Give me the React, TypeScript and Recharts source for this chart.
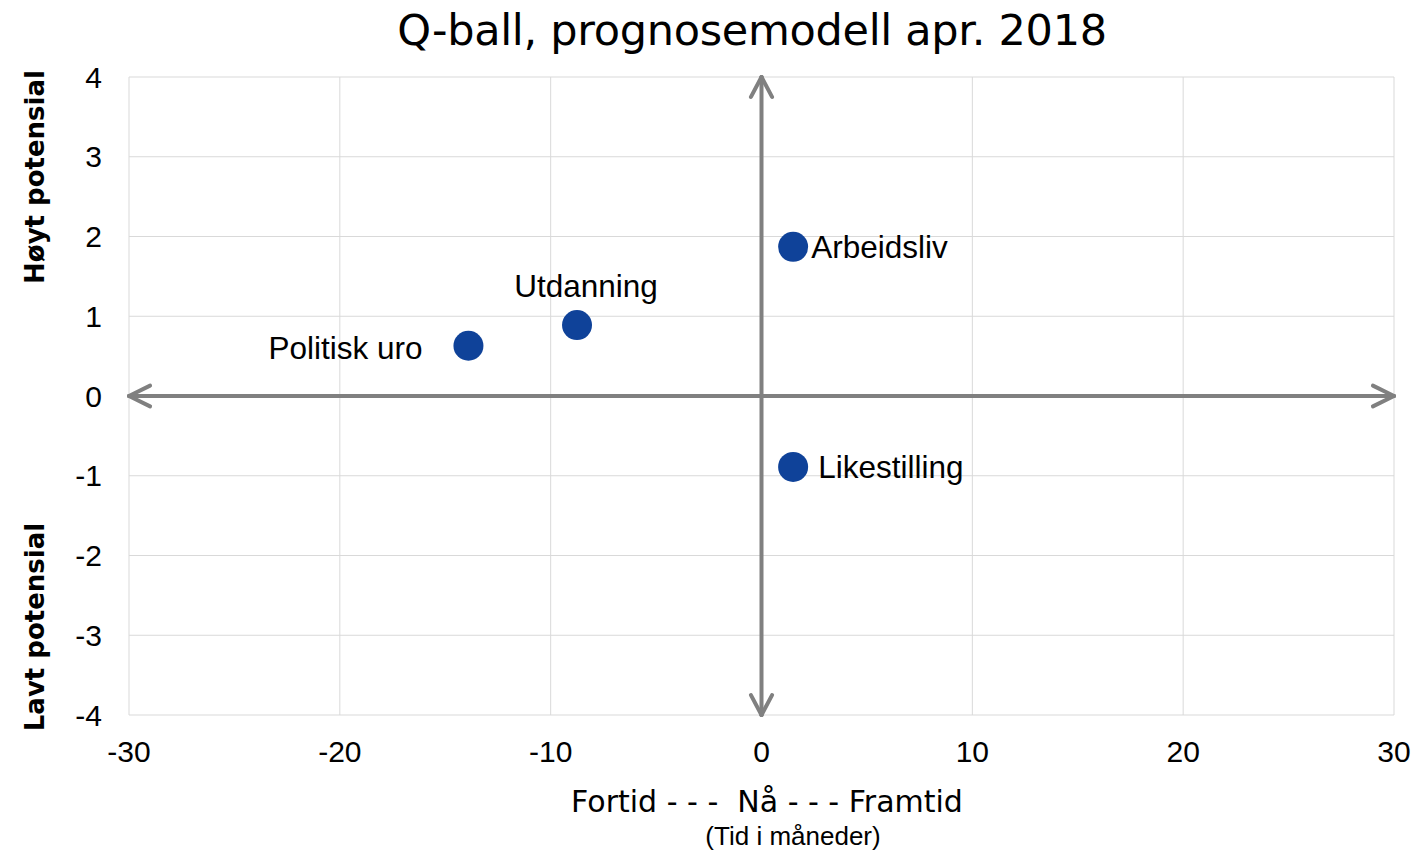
import React from "react";
import {
  ScatterChart,
  Scatter,
  XAxis,
  YAxis,
  CartesianGrid,
  ReferenceLine,
  LabelList,
} from "recharts";

const names = ["Arbeidsliv", "Utdanning", "Politisk uro", "Likestilling"];
const xValues = [1.5, -8.75, -13.9, 1.5];
const yValues = [1.87, 0.89, 0.63, -0.89];
const xTicks = [-30, -20, -10, 0, 10, 20, 30];
const yTicks = [-4, -3, -2, -1, 0, 1, 2, 3, 4];

const points = names.map((name, i) => ({ name, x: xValues[i], y: yValues[i] }));

const labelStyle: Record<string, { dx: number; dy: number; anchor: "start" | "middle" | "end" }> = {
  Arbeidsliv: { dx: 18, dy: 0, anchor: "start" },
  Likestilling: { dx: 25, dy: 0, anchor: "start" },
  Utdanning: { dx: 9, dy: -39, anchor: "middle" },
  "Politisk uro": { dx: -46, dy: 2, anchor: "end" },
};

const GREY = "#808080";
const DOT = "#0F4299";

const renderLabel = (props: any) => {
  const { x, y, width, height, value } = props;
  const s = labelStyle[value] || { dx: 0, dy: 0, anchor: "start" };
  const cx = x + (width || 0) / 2;
  const cy = y + (height || 0) / 2;
  return (
    <text
      x={cx + s.dx}
      y={cy + s.dy}
      textAnchor={s.anchor}
      dominantBaseline="central"
      fontFamily="'Liberation Sans', Arial, sans-serif"
      fontSize={31.5}
      fill="#000"
    >
      {value}
    </text>
  );
};

const seg = (a: [number, number], b: [number, number], key: string) => (
  <ReferenceLine
    key={key}
    segment={[
      { x: a[0], y: a[1] },
      { x: b[0], y: b[1] },
    ]}
    stroke={GREY}
    strokeWidth={4}
    strokeLinecap="round"
    ifOverflow="visible"
  />
);

const tickFont = { fontSize: 30, fill: "#000", fontFamily: "'Liberation Sans', Arial, sans-serif" };

export default function App() {
  return (
    <div style={{ position: "absolute", left: 0, top: 0, width: 1418, height: 852, background: "#fff" }}>
      <div
        style={{
          position: "absolute",
          left: 0,
          width: 1504,
          top: 5,
          textAlign: "center",
          fontFamily: "'DejaVu Sans', Verdana, sans-serif",
          fontSize: 43,
          color: "#000",
          letterSpacing: -0.3,
        }}
      >
        Q-ball, prognosemodell apr. 2018
      </div>
      <ScatterChart
        width={1418}
        height={852}
        margin={{ top: 77, right: 24, bottom: 107, left: 69 }}
      >
        <CartesianGrid stroke="#d9d9d9" strokeWidth={1} />
        <XAxis
          type="number"
          dataKey="x"
          domain={[-30, 30]}
          ticks={xTicks}
          axisLine={false}
          tickLine={false}
          height={30}
          tickMargin={20}
          tick={tickFont}
          interval={0}
        />
        <YAxis
          type="number"
          dataKey="y"
          domain={[-4, 4]}
          ticks={yTicks}
          axisLine={false}
          tickLine={false}
          width={60}
          tickMargin={21}
          tick={tickFont}
          interval={0}
        />
        {seg([-30, 0], [30, 0], "h")}
        {seg([0, -4], [0, 4], "v")}
        {seg([-30, 0], [-29, 0.13], "l1")}
        {seg([-30, 0], [-29, -0.13], "l2")}
        {seg([30, 0], [29, 0.13], "r1")}
        {seg([30, 0], [29, -0.13], "r2")}
        {seg([0, 4], [-0.5, 3.75], "t1")}
        {seg([0, 4], [0.5, 3.75], "t2")}
        {seg([0, -4], [-0.5, -3.75], "b1")}
        {seg([0, -4], [0.5, -3.75], "b2")}
        <Scatter
          data={points}
          fill={DOT}
          isAnimationActive={false}
          shape={(p: any) => <circle cx={p.cx} cy={p.cy} r={15} fill={DOT} />}
        >
          <LabelList dataKey="name" content={renderLabel} />
        </Scatter>
      </ScatterChart>
      <div
        style={{
          position: "absolute",
          left: 35,
          top: 177,
          transform: "translate(-50%, -50%) rotate(-90deg)",
          whiteSpace: "nowrap",
          fontFamily: "'DejaVu Sans', Verdana, sans-serif",
          fontWeight: "bold",
          fontSize: 26,
          color: "#000",
        }}
      >
        Høyt potensial
      </div>
      <div
        style={{
          position: "absolute",
          left: 35,
          top: 627,
          transform: "translate(-50%, -50%) rotate(-90deg)",
          whiteSpace: "nowrap",
          fontFamily: "'DejaVu Sans', Verdana, sans-serif",
          fontWeight: "bold",
          fontSize: 26,
          color: "#000",
        }}
      >
        Lavt potensial
      </div>
      <div
        style={{
          position: "absolute",
          left: 767,
          top: 801,
          transform: "translate(-50%, -50%)",
          whiteSpace: "pre",
          fontFamily: "'DejaVu Sans', Verdana, sans-serif",
          fontSize: 30,
          color: "#000",
        }}
      >
        {"Fortid - - -  Nå - - - Framtid"}
      </div>
      <div
        style={{
          position: "absolute",
          left: 793,
          top: 836,
          transform: "translate(-50%, -50%)",
          whiteSpace: "nowrap",
          fontFamily: "'Liberation Sans', Arial, sans-serif",
          fontSize: 26,
          color: "#000",
        }}
      >
        (Tid i måneder)
      </div>
    </div>
  );
}
